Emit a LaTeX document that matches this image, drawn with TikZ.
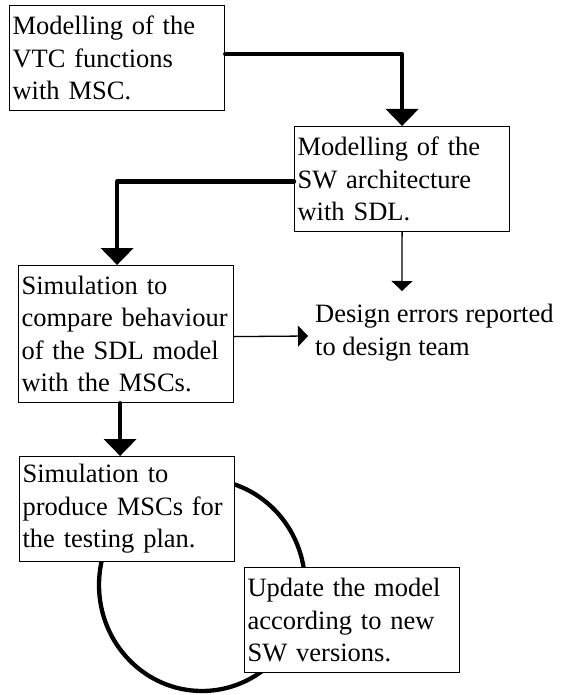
\documentclass[tikz,border=0pt]{standalone}
\usepackage{fontspec}
\setmainfont{Liberation Serif}
\usetikzlibrary{arrows.meta}
\begin{document}
\begin{tikzpicture}[x=1pt,y=-1pt,
  font=\fontsize{26.5}{32.5}\selectfont,
  stepbox/.style={draw, line width=1.2pt, fill=white, anchor=north west,
    text width=209pt, inner xsep=3pt, inner ysep=0pt, align=left,
    minimum height=105pt},
  heavy/.style={line width=4.3pt, line cap=round, line join=round,
    -{Triangle[width=32pt,length=17pt]}},
  light/.style={line width=1.3pt, -{Triangle[width=21pt,length=10pt]}}]
  \useasboundingbox (0,0) rectangle (566,695);

  % update loop behind the boxes
  \draw[line width=4.3pt] (202,585) ellipse [x radius=103, y radius=106];

  \node[stepbox] (b1) at (9,5) {Modelling of the\\VTC functions\\with MSC.};
  \node[stepbox] (b2) at (294,126) {Modelling of the\\SW architecture\\with SDL.};
  \node[stepbox, minimum height=137pt] (b3) at (18,265)
    {Simulation to\\compare behaviour\\of the SDL model\\with the MSCs.};
  \node[stepbox] (b4) at (19,456) {Simulation to\\produce MSCs for\\the testing plan.};
  \node[stepbox] (b5) at (244,567) {Update the model\\according to new\\SW versions.};

  \node[anchor=west, inner sep=0pt, align=left] (err) at (315,332.5)
    {Design errors reported\\to design team};

  \coordinate (errtop) at (402,291);
  \coordinate (errleft) at (308,336);

  \draw[heavy] ([yshift=4pt]b1.east) -| (b2.north);
  \draw[heavy] ([yshift=-2.5pt]b2.west) -| ([xshift=-9pt]b3.north);
  \draw[heavy] ([xshift=-6pt]b3.south) -- ([xshift=-6pt]b3.south |- b4.north);
  \draw[light] (b2.south) -- (errtop);
  \draw[light] ([yshift=-2.5pt]b3.east) -- (errleft);
\end{tikzpicture}
\end{document}
